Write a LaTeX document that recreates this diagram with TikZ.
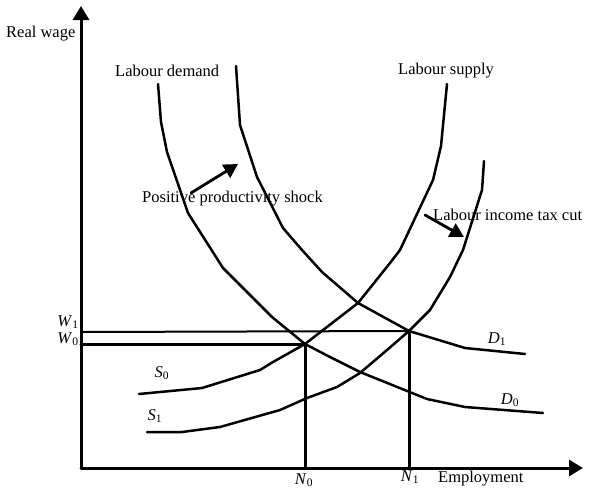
\documentclass[tikz,border=0pt]{standalone}
\usepackage{fontspec}
\setmainfont{Liberation Serif}
\usetikzlibrary{arrows.meta}
\tikzset{
  every picture/.style={font=\fontsize{16.5}{20}\selectfont, line join=round, line cap=round},
  axis/.style={line width=3pt,-{Triangle[length=14pt,width=16pt]}},
  curve/.style={line width=2.5pt},
  guide/.style={line width=3pt},
  shiftarrow/.style={line width=2.8pt,-{Triangle[length=14pt,width=15pt]}},
  lbl/.style={inner sep=0pt},
}
\newcommand{\subvar}[2]{\textit{#1}\textsubscript{#2}}

\begin{document}
\begin{tikzpicture}[x=1pt,y=-1pt]
\useasboundingbox(0,0)rectangle(589,493);
% axes
\coordinate(O)at(81,468);
\coordinate(ytip)at(81,6);
\coordinate(xtip)at(583,468);
\draw[axis](O)--(ytip);
\draw[axis](O)--(xtip);
% equilibrium points
\coordinate(E0)at(305,344);
\coordinate(E1)at(409,331);
\coordinate(W0)at(81,344);
\coordinate(W1)at(81,332);
\coordinate(N0)at(305,468);
\coordinate(N1)at(409,468);
\draw[guide](W0)--(E0)--(N0);
\draw[line width=2pt](W1)--(E1);
\draw[guide](E1)--(N1);
% labour demand
\draw[curve](158,84)--(161,122)--(167,152)--(188,213)--(223,268)--(251,296)--(272,317)--(E0)--(330,357)--(360,372)--(427,399)--(465,407)--(543,413);
\draw[curve](236,66)--(240,125)--(257,177)--(283,228)--(302,250)--(322,272)--(358,303)--(E1)--(465,348)--(525,354);
% labour supply
\draw[curve](447,84)--(441,146)--(433,180)--(400,250)--(390,263)--(358,303)--(E0)--(273,362)--(260,370)--(202,388)--(139,394);
\draw[curve](484,161)--(482,190)--(463,250)--(450,277)--(430,310)--(E1)--(387,350)--(360,373)--(337,387)--(307,398)--(280,410)--(220,427)--(182,432)--(147,432);
% labels
\node[lbl,anchor=west](rw)at(6,34){Real wage};
\node[lbl,anchor=west](ld)at(115,71){Labour demand};
\node[lbl,anchor=west](ls)at(398,71){Labour supply};
\node[lbl,anchor=west](pps)at(142,199){Positive productivity shock};
\node[lbl,anchor=west](itc)at(433,215){Labour income tax cut};
\node[lbl,anchor=west](emp)at(438,479){Employment};
\node[lbl](w1)at(68,322){\subvar{W}{1}};
\node[lbl](w0)at(68,339){\subvar{W}{0}};
\node[lbl](s0)at(162,373){\subvar{S}{0}};
\node[lbl](s1)at(155,416){\subvar{S}{1}};
\node[lbl](d1)at(497,339){\subvar{D}{1}};
\node[lbl](d0)at(510,400){\subvar{D}{0}};
\node[lbl](n0)at(304,480){\subvar{N}{0}};
\node[lbl](n1)at(410,477){\subvar{N}{1}};
% shifts
\coordinate(pstail)at(191,193);
\coordinate(pshead)at(238,164);
\coordinate(tctail)at(425,215);
\coordinate(tchead)at(464,237);
\draw[shiftarrow](pstail)--(pshead);
\draw[shiftarrow](tctail)--(tchead);
\end{tikzpicture}
\end{document}
